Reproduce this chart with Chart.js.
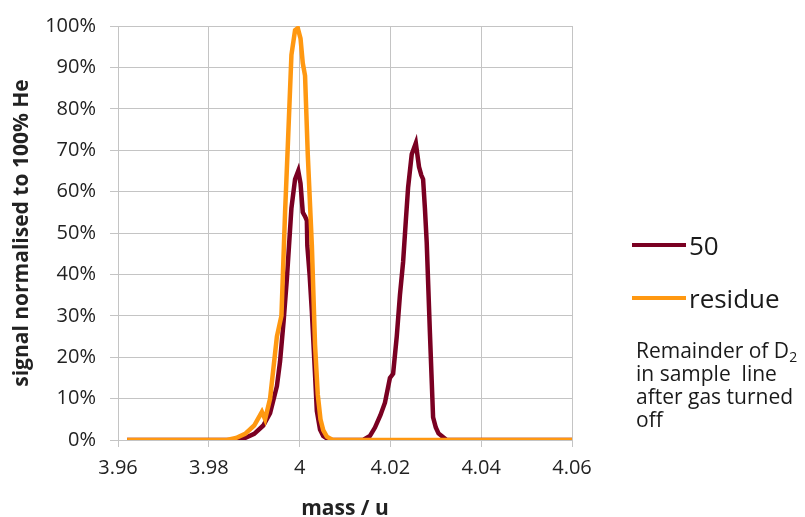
<!DOCTYPE html>
<html>
<head>
<meta charset="utf-8">
<script src="https://cdn.jsdelivr.net/npm/chart.js@4"></script>
<style>
  body { margin: 0; background: #fff; font-family: 'Open Sans', sans-serif; }
  #wrap { position: relative; width: 805px; height: 517px; }
  #legend { position: absolute; left: 632px; top: 218px; color: #1a1a1a; }
  .item { display: flex; align-items: center; height: 53px; font-size: 26px; }
  .swatch { width: 54px; height: 4px; margin-right: 3px; }
  #note { position: absolute; left: 636px; top: 339px; font-size: 21px; line-height: 23px; color: #1a1a1a; white-space: nowrap; }
  #note sub { font-size: 14px; line-height: 0; vertical-align: -4px; }
</style>
</head>
<body>
<div id="wrap">
  <canvas id="chart" width="805" height="517"></canvas>
  <div id="legend"></div>
  <div id="note">Remainder of D<sub>2</sub><br>in sample&nbsp; line<br>after gas turned<br>off</div>
</div>
<script>
const xTicks = [3.96, 3.98, 4.00, 4.02, 4.04, 4.06];

const mass50 = [3.962, 3.985, 3.988, 3.990, 3.992, 3.9935, 3.995, 3.9957, 3.9965, 3.9972, 3.9982, 3.999, 3.9997,
  4.0002, 4.0007, 4.0012, 4.0016, 4.0017, 4.0022, 4.0027, 4.0033, 4.0038, 4.0045, 4.0052, 4.0065,
  4.014, 4.0155, 4.0166, 4.0178, 4.0188, 4.0199, 4.0206, 4.0214, 4.0221, 4.0228, 4.0234, 4.0239, 4.0247,
  4.0256, 4.0263, 4.0268, 4.0272, 4.0276, 4.028, 4.0287, 4.0294, 4.030, 4.0306, 4.0324, 4.06];
const signal50 = [0, 0, 0.5, 1.5, 3.5, 6.5, 13, 19, 29, 39, 56, 63, 65,
  62, 55, 54, 53, 47, 40, 31, 18, 7, 2.5, 1, 0,
  0, 1, 3, 6, 9, 15, 16, 25, 35, 43, 53, 61, 69,
  71.7, 66, 64, 63, 56, 47.7, 26, 5.5, 3, 1.6, 0, 0];

const massResidue = [3.962, 3.984, 3.986, 3.988, 3.990, 3.9917, 3.9924, 3.9935, 3.995, 3.996, 3.9968, 3.9974,
  3.9982, 3.999, 3.9996, 4.0002, 4.0007, 4.0012, 4.0018, 4.0027, 4.0034, 4.004, 4.0046, 4.0052, 4.006, 4.0073, 4.06];
const signalResidue = [0, 0, 0.5, 1.5, 3.5, 6.8, 5, 10, 25, 30, 55, 71,
  93, 99, 99.5, 97, 91, 88, 69, 47, 23, 11, 5, 2.4, 0.8, 0, 0];

const toPoints = (xs, ys) => xs.map((x, i) => ({ x: x, y: ys[i] }));

const gridColor = '#c4c4c4';
const textColor = '#222';

const datasets = [
  { label: '50', data: toPoints(mass50, signal50), borderColor: '#7a0022', order: 2 },
  { label: 'residue', data: toPoints(massResidue, signalResidue), borderColor: '#ff9811', order: 1 }
].map(d => ({ ...d, showLine: true, pointRadius: 0, borderWidth: 4.5, tension: 0, fill: false }));

const chart = new Chart(document.getElementById('chart').getContext('2d'), {
  type: 'scatter',
  data: { datasets: datasets },
  options: {
    responsive: false,
    animation: false,
    layout: { padding: { left: 0, right: 233, top: 22, bottom: 0 } },
    plugins: { legend: { display: false }, tooltip: { enabled: false } },
    scales: {
      x: {
        type: 'linear',
        min: 3.96,
        max: 4.06,
        afterBuildTicks: scale => { scale.ticks = xTicks.map(v => ({ value: v })); },
        afterFit: scale => { scale.height = 77; },
        grid: { color: gridColor, tickLength: 7, tickColor: gridColor },
        border: { color: gridColor },
        ticks: { color: textColor, font: { family: 'Open Sans', size: 20 }, padding: 9,
          callback: v => String(Math.round(v * 100) / 100) },
        title: { display: true, text: 'mass / u', color: textColor,
          font: { family: 'Open Sans', size: 21, weight: 'bold' }, padding: { top: 0, bottom: -5 } }
      },
      y: {
        min: 0,
        max: 100,
        afterFit: scale => { scale.width = 118; },
        grid: { color: gridColor, tickLength: 8, tickColor: gridColor },
        border: { color: gridColor },
        ticks: { stepSize: 10, color: textColor, font: { family: 'Open Sans', size: 20 }, padding: 14,
          callback: v => v + '%' },
        title: { display: true, text: 'signal normalised to 100% He', color: textColor,
          font: { family: 'Open Sans', size: 21, weight: 'bold' }, padding: { top: 9, bottom: 0 } }
      }
    }
  }
});

// legend built from the datasets
const legend = document.getElementById('legend');
chart.data.datasets.forEach(d => {
  const item = document.createElement('div');
  item.className = 'item';
  item.innerHTML = '<span class="swatch" style="background:' + d.borderColor + '"></span>' + d.label;
  legend.appendChild(item);
});
</script>
</body>
</html>
